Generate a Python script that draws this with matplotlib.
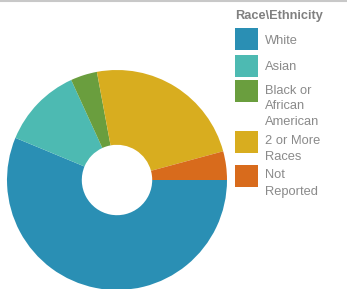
import matplotlib
matplotlib.use("Agg")
import matplotlib.pyplot as plt
from matplotlib.patches import Rectangle
from matplotlib.lines import Line2D

plt.rcParams['font.family'] = ['Liberation Sans', 'DejaVu Sans']

categories = ["White", "Asian", "Black or\nAfrican\nAmerican", "2 or More\nRaces", "Not\nReported"]
values = [56.2, 11.9, 3.9, 23.7, 4.2]
colors = ["#2a8fb4", "#4dbab2", "#6a9e3e", "#d8ad1f", "#d86b1c"]
legend_title = "Race\\Ethnicity"

W, H = 347, 289
fig = plt.figure(figsize=(W / 100, H / 100), dpi=100)

cx, cy, r = 117, 180, 110
ax = fig.add_axes([(cx - r) / W, (H - cy - r) / H, 2 * r / W, 2 * r / H])
ax.pie(values, colors=colors, startangle=0, counterclock=False, radius=1.0,
       wedgeprops=dict(width=1 - 0.32, linewidth=0))
ax.set_xlim(-1, 1)
ax.set_ylim(-1, 1)
ax.set_aspect('equal')
ax.axis('off')

# top border line
fig.add_artist(Line2D([0, 1], [1 - 1 / H, 1 - 1 / H], transform=fig.transFigure,
                      color="#c8c8c8", linewidth=1.5))

# legend
fig.text(235 / W, 1 - 16 / H, legend_title, fontsize=9.2, fontweight='bold',
         color="#808080", va='center', ha='left')
patch_tops = [28, 55, 80, 131, 165]
text_tops = [35, 61, 85, 135, 169]
spacings = [1.38, 1.38, 1.38, 1.4, 1.5]
for lab, col, top, tt, ls in zip(categories, colors, patch_tops, text_tops, spacings):
    fig.add_artist(Rectangle((235 / W, 1 - (top + 22) / H), 23 / W, 22 / H,
                             transform=fig.transFigure, facecolor=col, edgecolor='none'))
    fig.text(265 / W, 1 - tt / H, lab, fontsize=9.3, color="#8a8a8a",
             va='top', ha='left', linespacing=ls)

fig.savefig("out.png", dpi=100)
